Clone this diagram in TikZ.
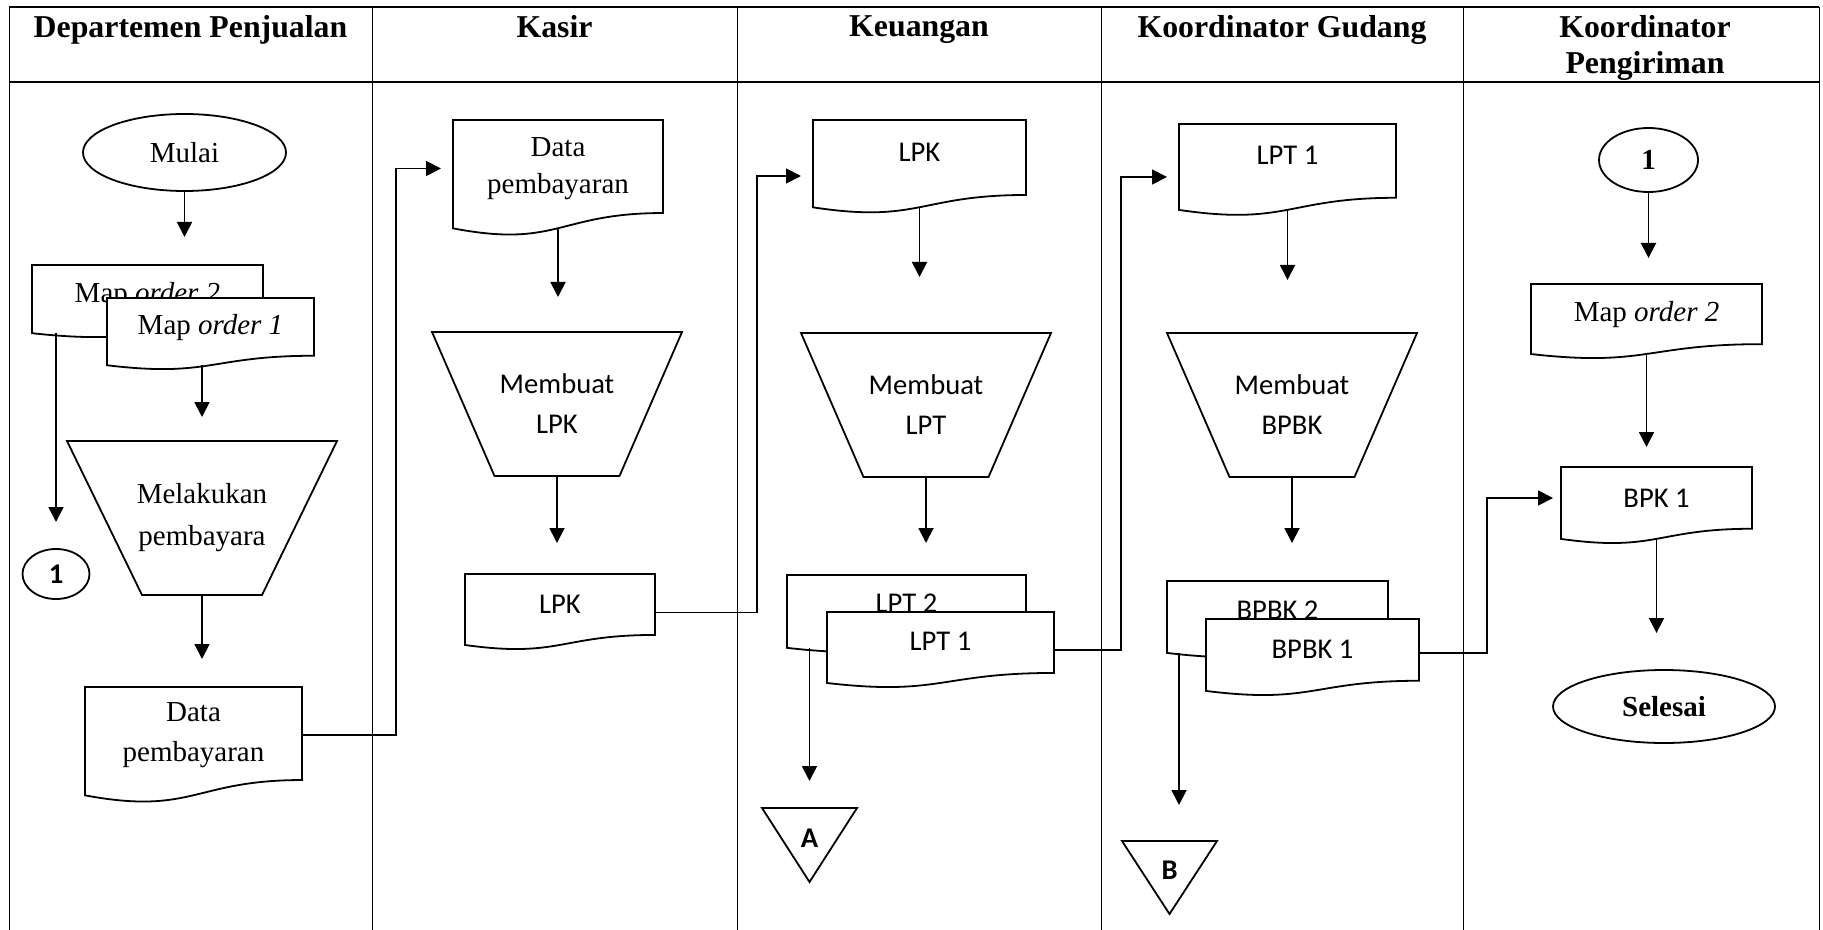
\documentclass[tikz,border=0pt]{standalone}
\usepackage{fontspec}
\setmainfont{Liberation Serif}
\newfontfamily\calibrifont{Carlito}
\usetikzlibrary{arrows.meta,shapes.geometric,calc}

% Flowchart "document" symbol: the node rectangle gives the top edge, the
% sides and the text position; the wavy bottom hangs at "doc wave height"
% below the top edge.
\makeatletter
\newdimen\dw@h
\pgfkeys{/pgf/doc wave height/.initial=1cm}
\pgfdeclareshape{docwave}{%
  \inheritsavedanchors[from=rectangle]%
  \inheritanchorborder[from=rectangle]%
  \inheritanchor[from=rectangle]{center}%
  \inheritanchor[from=rectangle]{north}%
  \inheritanchor[from=rectangle]{south}%
  \inheritanchor[from=rectangle]{east}%
  \inheritanchor[from=rectangle]{west}%
  \inheritanchor[from=rectangle]{north east}%
  \inheritanchor[from=rectangle]{north west}%
  \inheritanchor[from=rectangle]{south east}%
  \inheritanchor[from=rectangle]{south west}%
  \inheritanchor[from=rectangle]{base}%
  \inheritanchor[from=rectangle]{mid}%
  \saveddimen\wavedepth{\pgfmathsetlength\pgf@x{\pgfkeysvalueof{/pgf/doc wave height}}}%
  \anchor{wave}{%
    \southwest \pgf@xa=\pgf@x
    \northeast \pgf@ya=\pgf@y
    \pgf@x=.5\pgf@x \advance\pgf@x by .5\pgf@xa
    \pgf@yb=\wavedepth\relax
    \pgf@y=\pgf@ya \advance\pgf@y by -.933\pgf@yb
  }%
  \backgroundpath{%
    \southwest \pgf@xa=\pgf@x
    \northeast \pgf@xb=\pgf@x \pgf@ya=\pgf@y
    \dw@h=\wavedepth\relax
    \edef\dw@L{\the\pgf@xa}\edef\dw@R{\the\pgf@xb}\edef\dw@T{\the\pgf@ya}%
    \pgf@xc=.5\pgf@xa \advance\pgf@xc by .5\pgf@xb \edef\dw@M{\the\pgf@xc}%
    \pgf@yc=\pgf@ya \advance\pgf@yc by -.802\dw@h \edef\dw@A{\the\pgf@yc}%
    \pgf@yc=\pgf@ya \advance\pgf@yc by -1.1075\dw@h \edef\dw@B{\the\pgf@yc}%
    \pgf@yc=\pgf@ya \advance\pgf@yc by -.934\dw@h \edef\dw@C{\the\pgf@yc}%
    \pgfpathmoveto{\pgfqpoint{\dw@L}{\dw@T}}%
    \pgfpathlineto{\pgfqpoint{\dw@R}{\dw@T}}%
    \pgfpathlineto{\pgfqpoint{\dw@R}{\dw@A}}%
    \pgfpathcurveto{\pgfqpoint{\dw@M}{\dw@A}}{\pgfqpoint{\dw@M}{\dw@B}}{\pgfqpoint{\dw@L}{\dw@C}}%
    \pgfpathclose
  }%
}
\makeatother

\begin{document}
\begin{tikzpicture}[x=0.5pt,y=-0.5pt,
  tab/.style={line width=0.5pt},
  tabh/.style={line width=0.7pt},
  outline/.style={line width=0.9pt},
  arr/.style={line width=0.9pt,-{Triangle[width=7.5pt,length=7.5pt]}},
  serif/.style={font=\fontsize{14.5}{19.5}\selectfont},
  sans/.style={font=\calibrifont\fontsize{14.3}{20}\selectfont},
  head/.style={font=\bfseries\fontsize{15.9}{18}\selectfont, anchor=north, align=center, inner sep=0pt},
  doc/.style={shape=docwave, draw, fill=white, outline, inner sep=0pt, outer sep=0pt, align=center},
  terminal/.style={ellipse, draw, outline, inner sep=0pt, outer sep=0pt},
  trapbox/.style={inner sep=0pt, outer sep=0pt, align=center, minimum width=125pt, minimum height=72pt},
  offpage/.style={inner sep=0pt, outer sep=0pt, minimum width=47.5pt, font=\calibrifont\bfseries\fontsize{14.3}{17}\selectfont}
]
\useasboundingbox (0,0) rectangle (1823,930);

% ---- swimlane table ----
\draw[tab] (9,930) -- (9,7);
\draw[tab] (1819,930) -- (1819,7);
\draw[tabh] (9,7) -- (1819,7);
\draw[tabh] (9,82) -- (1819,82);
\foreach \xx in {372,737,1101,1463} \draw[tab] (\xx,7) -- (\xx,930);

\node[head] (h1) at (190.5,15) {Departemen Penjualan};
\node[head] (h2) at (554.5,15) {Kasir};
\node[head] (h3) at (919,15) {Keuangan};
\node[head] (h4) at (1282,15) {Koordinator Gudang};
\node[head] (h5) at (1645,15) {Koordinator\\Pengiriman};

% ---- Departemen Penjualan ----
\node[terminal, serif, minimum width=101.5pt, minimum height=38.5pt] (mulai) at (184.5,152.5) {Mulai};
\node[doc, serif, minimum width=115.5pt, minimum height=31pt, doc wave height=36.5pt] (m2) at (147.5,296) {Map \textit{order 2}};
\node[doc, serif, minimum width=103.5pt, minimum height=30pt, doc wave height=36pt] (m1) at (210.5,328) {Map \textit{order 1}};
\node[trapbox, serif, font=\fontsize{14.5}{21}\selectfont, minimum width=135pt, minimum height=77pt] (dtrap) at (202,518) {Melakukan\\pembayara};
\draw[outline] (dtrap.north west) -- (dtrap.north east) -- ([xshift=-37.5pt]dtrap.south east) -- ([xshift=37.5pt]dtrap.south west) -- cycle;
\node[terminal, minimum width=33.5pt, minimum height=25pt, font=\calibrifont\bfseries\fontsize{14.3}{17}\selectfont] (c1) at (56,574) {1};
\node[doc, serif, font=\fontsize{14.5}{20}\selectfont, minimum width=108.5pt, minimum height=48pt, doc wave height=58pt] (ddp) at (193.5,735) {Data\\pembayaran};

% ---- Kasir ----
\node[doc, serif, font=\fontsize{14.5}{18.5}\selectfont, minimum width=105pt, minimum height=48.5pt, doc wave height=58pt] (kdp) at (558,168.5) {Data\\pembayaran};
\node[trapbox, sans] (ktrap) at (557,404) {Membuat\\LPK};
\draw[outline] (ktrap.north west) -- (ktrap.north east) -- ([xshift=-31.25pt]ktrap.south east) -- ([xshift=31.25pt]ktrap.south west) -- cycle;
\node[doc, sans, minimum width=95pt, minimum height=30.5pt, doc wave height=38pt] (klpk) at (560,604.5) {LPK};

% ---- Keuangan ----
\node[doc, sans, minimum width=106.5pt, minimum height=32pt, doc wave height=46.75pt] (elpk) at (919.5,152) {LPK};
\node[trapbox, sans] (etrap) at (926,405) {Membuat\\LPT};
\draw[outline] (etrap.north west) -- (etrap.north east) -- ([xshift=-31.25pt]etrap.south east) -- ([xshift=31.25pt]etrap.south west) -- cycle;
\node[doc, sans, minimum width=119.5pt, minimum height=28pt, doc wave height=39pt] (lpt2) at (906.5,603) {LPT 2};
\node[doc, sans, minimum width=113.5pt, minimum height=29pt, doc wave height=38pt] (lpt1) at (940.5,641) {LPT 1};
\node[offpage, minimum height=37pt, text depth=7pt] (tA) at (809.5,845) {A};
\draw[outline] (tA.north west) -- (tA.north east) -- (tA.south) -- cycle;

% ---- Koordinator Gudang ----
\node[doc, sans, minimum width=108.5pt, minimum height=31pt, doc wave height=46pt] (glpt) at (1287.5,155) {LPT 1};
\node[trapbox, sans] (gtrap) at (1292,405) {Membuat\\BPBK};
\draw[outline] (gtrap.north west) -- (gtrap.north east) -- ([xshift=-31.25pt]gtrap.south east) -- ([xshift=31.25pt]gtrap.south west) -- cycle;
\node[doc, sans, minimum width=110.5pt, minimum height=29pt, doc wave height=38.5pt] (bpbk2) at (1277.5,610) {BPBK 2};
\node[doc, sans, minimum width=106.5pt, minimum height=30pt, doc wave height=38.5pt] (bpbk1) at (1312.5,649) {BPBK 1};
\node[offpage, minimum height=36.5pt, text depth=7.5pt] (tB) at (1169.5,877.5) {B};
\draw[outline] (tB.north west) -- (tB.north east) -- (tB.south) -- cycle;

% ---- Koordinator Pengiriman ----
\node[terminal, minimum width=49.5pt, minimum height=32pt, font=\bfseries\fontsize{14.5}{17}\selectfont] (c2) at (1648.5,160) {1};
\node[doc, serif, minimum width=115.5pt, minimum height=31pt, doc wave height=37.5pt] (pm2) at (1646.5,315) {Map \textit{order 2}};
\node[doc, sans, minimum width=95.5pt, minimum height=31pt, doc wave height=38.5pt] (bpk) at (1656.5,498) {BPK 1};
\node[terminal, minimum width=111pt, minimum height=36.5pt, font=\bfseries\fontsize{14.5}{17}\selectfont] (selesai) at (1664,706.5) {Selesai};

% ---- flow ----
\draw[arr, shorten >=14pt] (mulai.south) -- (mulai.south |- m2.north);
\draw[arr, shorten >=12pt] (m1.wave -| dtrap.north) -- (dtrap.north);
\draw[arr, shorten >=13.5pt] (m2.wave -| c1.north) -- (c1.north);
\draw[arr, shorten >=14pt] (dtrap.south) -- (dtrap.south |- ddp.north);
\draw[arr, shorten >=6pt] (ddp.east) -- ++(94,0) |- (kdp.west);

\draw[arr, shorten >=17.5pt] (kdp.wave) -- (kdp.wave |- ktrap.north);
\draw[arr, shorten >=15.5pt] (ktrap.south) -- (ktrap.south |- klpk.north);
\draw[arr, shorten >=6pt] ([yshift=-4pt]klpk.east) -- ++(102,0) |- ([yshift=-12pt]elpk.west);

\draw[arr, shorten >=28pt] (elpk.wave) -- (elpk.wave |- etrap.north);
\draw[arr, shorten >=16pt] (etrap.south) -- (etrap.south |- lpt2.north);
\draw[arr, shorten >=13.5pt] (lpt2.wave -| tA.north) -- (tA.north);
\draw[arr, shorten >=6pt] ([yshift=-4.5pt]lpt1.east) -- ++(67,0) |- ([yshift=-11pt]glpt.west);

\draw[arr, shorten >=26.5pt] (glpt.wave) -- (glpt.wave |- gtrap.north);
\draw[arr, shorten >=19pt] (gtrap.south) -- (gtrap.south |- bpbk2.north);
\draw[arr, shorten >=18pt] ($(bpbk2.wave -| tB.north)+(9.5,0)$) -- ($(tB.north)+(9.5,0)$);
\draw[arr, shorten >=4pt] ([yshift=-2pt]bpbk1.east) -- ++(68,0) |- (bpk.west);

\draw[arr, shorten >=13pt] (c2.south) -- (c2.south |- pm2.north);
\draw[arr, shorten >=10pt] (pm2.wave) -- (pm2.wave |- bpk.north);
\draw[arr, shorten >=18.5pt] (bpk.wave) -- (bpk.wave |- selesai.north);
\end{tikzpicture}
\end{document}
